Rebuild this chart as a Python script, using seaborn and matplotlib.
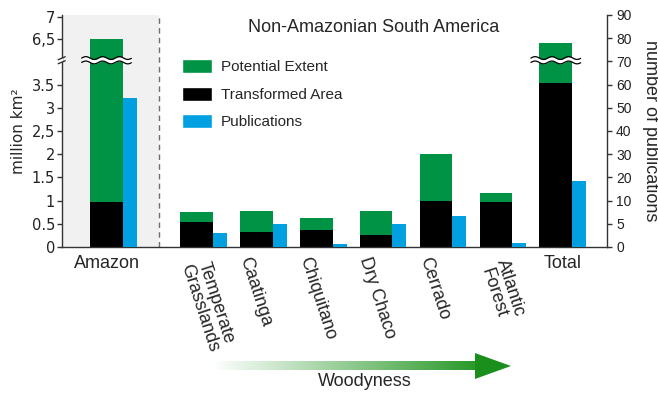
import numpy as np
import pandas as pd
import matplotlib
matplotlib.use("Agg")
import matplotlib.pyplot as plt
import seaborn as sns
from matplotlib.patches import Patch, Polygon
from matplotlib.colors import LinearSegmentedColormap
from matplotlib import transforms

# ---- data -----------------------------------------------------------------
regions = ["Amazon", "Temperate\nGrasslands", "Caatinga", "Chiquitano",
           "Dry Chaco", "Cerrado", "Atlantic\nForest", "Total"]
group_pos = [0.0, 1.5, 2.5, 3.5, 4.5, 5.5, 6.5, 7.5]
potential_extent = [6.5, 0.748, 0.776, 0.625, 0.776, 2.01, 1.17, 6.41]   # million km²
transformed_area = [0.98, 0.532, 0.317, 0.36, 0.265, 0.998, 0.97, 3.53]  # million km²
publications = [54.4, 3.0, 4.9, 0.7, 4.9, 6.7, 0.8, 18.4]

left_ticks = [0, 0.5, 1, 1.5, 2, 2.5, 3, 3.5, 6.5, 7]
left_tick_labels = ["0", "0.5", "1", "1.5", "2", "2,5", "3", "3.5", "6,5", "7"]
right_ticks = [0, 5, 10, 20, 30, 40, 50, 60, 70, 80, 90]
right_tick_labels = [str(t) for t in right_ticks]

# ---- style ----------------------------------------------------------------
GREEN = "#009245"
BLUE = "#00A0E1"
SHADE = "#F1F1F1"
AXC = "#333333"
GREEN_W = 0.546
BLUE_W = 0.234

sns.set_style("ticks")
plt.rcParams["font.family"] = ["Liberation Sans", "DejaVu Sans"]
plt.rcParams["axes.edgecolor"] = AXC
plt.rcParams["axes.linewidth"] = 1.0

W, H = 658, 399
fig = plt.figure(figsize=(W / 100, H / 100), dpi=100)

ax_left, ax_right, ax_bottom, ax_top = 61.7, 607.3, 247.0, 15.0
ax = fig.add_axes([ax_left / W, 1 - ax_bottom / H,
                   (ax_right - ax_left) / W, (ax_bottom - ax_top) / H])

df = pd.DataFrame({
    "region": regions,
    "pos": group_pos,
    "pub_pos": [p + (GREEN_W + BLUE_W) / 2 for p in group_pos],
    "extent": potential_extent,
    "transformed": transformed_area,
    "pubs": publications,
})

# Amazon shaded panel and separator
sep_x = 0.871
ax.axvspan(-1.0, sep_x, color=SHADE, zorder=0, lw=0)
ax.axvline(sep_x, color="#6f6f6f", lw=1.0, ls=(0, (4, 3)), zorder=1)

# area bars (left axis)
sns.barplot(data=df, x="pos", y="extent", native_scale=True, width=GREEN_W,
            color=GREEN, saturation=1, linewidth=0, errorbar=None, ax=ax)
sns.barplot(data=df, x="pos", y="transformed", native_scale=True, width=GREEN_W,
            color="black", saturation=1, linewidth=0, errorbar=None, ax=ax)

# publication bars (right axis)
ax2 = ax.twinx()
sns.barplot(data=df, x="pub_pos", y="pubs", native_scale=True, width=BLUE_W,
            color=BLUE, saturation=1, linewidth=0, errorbar=None, ax=ax2)


# ---- broken / stretched scales ---------------------------------------------
def area_fwd(v):
    v = np.asarray(v, dtype=float)
    return np.where(v <= 4, 2 * v, np.where(v >= 6, 8 + 1.9 * (v - 6), 8.0))


def area_inv(u):
    u = np.asarray(u, dtype=float)
    return np.where(u <= 8, u / 2, 6 + (u - 8) / 1.9)


def pub_fwd(p):
    p = np.asarray(p, dtype=float)
    return np.where(p <= 10, p / 5, 1 + p / 10)


def pub_inv(u):
    u = np.asarray(u, dtype=float)
    return np.where(u <= 2, 5 * u, 10 * (u - 1))


ax.set_yscale("function", functions=(area_fwd, area_inv))
ax2.set_yscale("function", functions=(pub_fwd, pub_inv))
ax.set_ylim(0, float(area_inv(10.0)))
ax2.set_ylim(0, 90)
ax.set_xlim(-0.748, 8.36)

# left axis
ax.set_yticks(left_ticks)
ax.set_yticklabels(left_tick_labels, fontfamily="DejaVu Sans", fontsize=10.5, color="#222222")
ax.yaxis.set_minor_locator(matplotlib.ticker.NullLocator())
ax.tick_params(axis="y", which="major", length=3.3, width=1, pad=1.5, color=AXC)
ax.set_xticks([])
ax.set_xlabel("")
ax.set_ylabel("")
for s in ["top", "right"]:
    ax.spines[s].set_visible(False)

# right axis
ax2.set_yticks(right_ticks)
ax2.set_yticklabels(right_tick_labels, fontsize=10, color="#222222")
ax2.yaxis.set_minor_locator(matplotlib.ticker.NullLocator())
ax2.tick_params(axis="y", which="major", length=3.3, width=1, pad=3, color=AXC)
ax2.set_ylabel("")
ax2.set_xlabel("")
ax2.set_xticks([])
for s in ["top", "left", "bottom"]:
    ax2.spines[s].set_visible(False)

# ---- axis-break marks --------------------------------------------------------
px_x = 1 / (ax_right - ax_left)
px_y = 1 / (ax_bottom - ax_top)
u_break = 8.05
yb = u_break / 10
blend = transforms.blended_transform_factory(ax2.transData, ax2.transAxes)
for i in (0, len(group_pos) - 1):
    c = group_pos[i]
    xs = np.linspace(c - 0.415, c + 0.415, 120)
    wave = 1.4 * px_y * np.sin(2 * np.pi * (xs - xs[0]) / 0.28)
    lo = yb - 2.2 * px_y + wave
    hi = yb + 2.2 * px_y + wave
    ax2.fill_between(xs, lo, hi, color="white", transform=blend, zorder=5, lw=0)
    ax2.plot(xs, lo, color="black", lw=0.9, transform=blend, zorder=6)
    ax2.plot(xs, hi, color="black", lw=0.9, transform=blend, zorder=6)

# marks on the left spine
for dy in (-2.0, 2.0):
    ax.plot([-3.5 * px_x, 3.5 * px_x], [yb + dy * px_y - 1.5 * px_y, yb + dy * px_y + 1.5 * px_y],
            color=AXC, lw=1.0, transform=ax.transAxes, clip_on=False, zorder=6)
ax.plot([0, 0], [yb - 1.2 * px_y, yb + 1.2 * px_y], color="white", lw=1.6,
        transform=ax.transAxes, clip_on=False, zorder=5)

# ---- category labels ---------------------------------------------------------
xlab = transforms.blended_transform_factory(ax.transData, fig.transFigure)
ax.text(group_pos[0], 1 - 264 / H, "Amazon", ha="center", va="center",
        fontsize=13, transform=xlab)
ax.text(group_pos[-1] + (GREEN_W + BLUE_W) / 2 - GREEN_W / 2, 1 - 263 / H, "Total",
        ha="center", va="center", fontsize=13, transform=xlab)
for name, p in zip(regions[1:-1], group_pos[1:-1]):
    if "\n" in name:
        ax.text(p - 0.05, 1 - 262 / H, name, rotation=-72, rotation_mode="anchor",
                ha="left", va="center", multialignment="center", fontsize=13,
                transform=xlab, linespacing=1.05)
    else:
        ax.text(p - 0.06, 1 - 255 / H, name, rotation=-72, rotation_mode="anchor",
                ha="left", va="top", fontsize=13, transform=xlab)

# ---- titles and axis labels --------------------------------------------------
fig.text(374 / W, 1 - 31.7 / H, "Non-Amazonian South America", ha="center",
         va="baseline", fontsize=13)
fig.text(19 / W, 1 - 131 / H, "million km²", rotation=90, ha="center",
         va="center", fontsize=11, fontfamily="DejaVu Sans")
fig.text(650 / W, 1 - 131 / H, "number of publications", rotation=-90,
         ha="center", va="center", fontsize=13)

# ---- legend --------------------------------------------------------------------
handles = [Patch(facecolor=GREEN, label="Potential Extent"),
           Patch(facecolor="black", label="Transformed Area"),
           Patch(facecolor=BLUE, label="Publications")]
fig.legend(handles=handles, loc="upper left",
           bbox_to_anchor=(181.7 / W, 1 - 59 / H), bbox_transform=fig.transFigure,
           frameon=False, fontsize=11, handlelength=1.96, handleheight=1.05,
           handletextpad=0.6, labelspacing=0.8, borderpad=0, borderaxespad=0)

# ---- woodyness gradient arrow ----------------------------------------------------
arr_ax = fig.add_axes([213 / W, 1 - 381 / H, (511 - 213) / W, 28 / H])
arr_ax.set_xlim(0, 298)
arr_ax.set_ylim(0, 28)
arr_ax.axis("off")
wood_cmap = LinearSegmentedColormap.from_list("wood", ["#ffffff", "#2a9a2a"])
arr_ax.imshow(np.linspace(0, 1, 256).reshape(1, -1), extent=[0, 263, 11, 19.3],
              cmap=wood_cmap, aspect="auto", interpolation="bilinear")
arr_ax.add_patch(Polygon([[262, 2], [298, 15], [262, 28]], closed=True,
                         facecolor="#1b8f1b", edgecolor="none"))
fig.text(365 / W, 1 - 382 / H, "Woodyness", ha="center", va="center", fontsize=13)

fig.savefig("out.png", dpi=100)
